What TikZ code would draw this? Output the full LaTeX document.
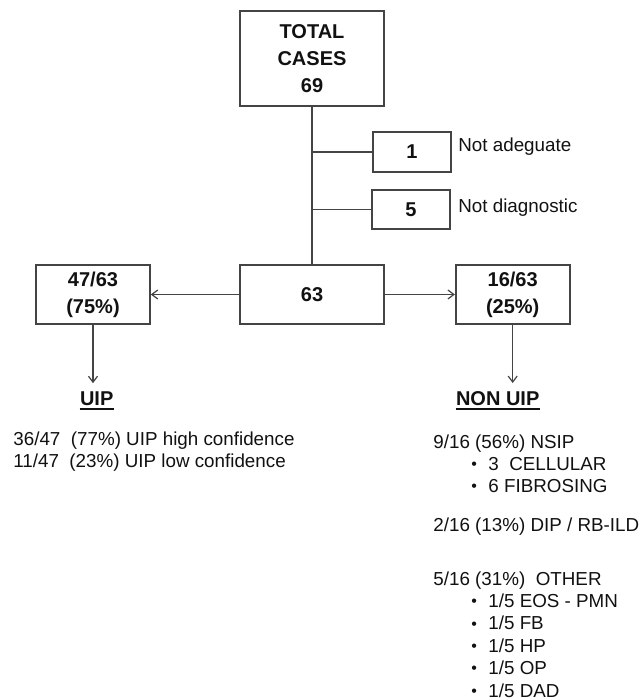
\documentclass[tikz,border=0pt]{standalone}
\usepackage{fontspec}
\setmainfont{Liberation Sans}
\usetikzlibrary{positioning,arrows.meta}
\definecolor{border}{HTML}{444444}
\definecolor{textCol}{HTML}{111111}
\newcommand{\bul}{\makebox[8.5pt][l]{\raisebox{0.4pt}{\scalebox{0.85}{\textbullet}}}}
\tikzset{
  countbox/.style={
    rectangle, draw=border, line width=0.8pt, align=center,
    font=\fontsize{10}{13.5}\selectfont\bfseries, text=textCol, inner sep=0pt,
  },
  link/.style={border, line width=0.8pt},
  arrow/.style={-{Straight Barb[length=3pt,width=4.5pt]}, border, line width=0.6pt},
  uline/.style={textCol, line width=0.9pt},
  note/.style={font=\fontsize{9.4}{11.25}\selectfont, text=textCol, anchor=base west, inner sep=0pt},
  head/.style={font=\fontsize{10}{12}\selectfont\bfseries, text=textCol, anchor=base, inner sep=0pt},
}

\begin{document}
\begin{tikzpicture}[x=0.5pt, y=-0.5pt]
  \useasboundingbox (0,0) rectangle (641,699);

  % Total and excluded cases
  \node[countbox, minimum width=72pt, minimum height=47.5pt] (total) at (312,58.5) {TOTAL\\CASES\\69};
  \node[countbox, minimum width=39pt, minimum height=20pt] (inadeq) at (412,152) {1};
  \node[countbox, minimum width=39pt, minimum height=19.5pt] (nondiag) at (411,209.5) {5};
  \node[note] (inadeqlbl) at (458,152) {Not adeguate};
  \node[note] (nondiaglbl) at (458,213) {Not diagnostic};

  % Valid cases
  \node[countbox, minimum width=72pt, minimum height=29.5pt] (valid) at (312,294.5) {63};
  \node[countbox, minimum width=57pt, minimum height=29.5pt] (uipbox) at (93,294.5) {47/63\\(75\%)};
  \node[countbox, minimum width=57pt, minimum height=29.5pt] (nonuipbox) at (512.7,294.5) {16/63\\(25\%)};

  \draw[link] (total) -- (valid);
  \draw[link] (total.south |- inadeq.west) -- (inadeq.west);
  \draw[link] (total.south |- nondiag.west) -- (nondiag.west);
  \draw[arrow] (valid) -- (uipbox);
  \draw[arrow] (valid) -- (nonuipbox);

  % Headings
  \node[head] (uiphead) at (96.7,405) {UIP};
  \node[head] (nonuiphead) at (497.7,405) {NON UIP};
  \draw[uline] ([yshift=-2pt]uiphead.base west) -- ([yshift=-2pt]uiphead.base east);
  \draw[uline] ([yshift=-2pt]nonuiphead.base west) -- ([yshift=-2pt]nonuiphead.base east);
  \draw[arrow, shorten >=3.8pt] (uipbox.south) -- (uipbox.south |- uiphead.north);
  \draw[arrow, shorten >=3.8pt] (nonuipbox.south) -- (nonuipbox.south |- nonuiphead.north);

  % UIP list
  \node[note] (uiphigh) at (13,445.5) {36/47\ \ (77\%) UIP high confidence};
  \node[note] (uiplow) at (13,467.5) {11/47\ \ (23\%) UIP low confidence};

  % NON UIP list
  \node[note] (nsip) at (433,448.3) {9/16 (56\%) NSIP};
  \node[note] (cellular) at (471,470.7) {\bul 3\ \ CELLULAR};
  \node[note] (fibrosing) at (471,492.3) {\bul 6 FIBROSING};
  \node[note] (dip) at (433,531.7) {2/16 (13\%) DIP / RB-ILD};
  \node[note] (other) at (433,585) {5/16 (31\%)\ \ OTHER};
  \foreach \txt [count=\i] in {EOS - PMN, FB, HP, OP, DAD}
    \node[note] (other\i) at (471,585+22.4*\i) {\bul 1/5 \txt};

\end{tikzpicture}
\end{document}
